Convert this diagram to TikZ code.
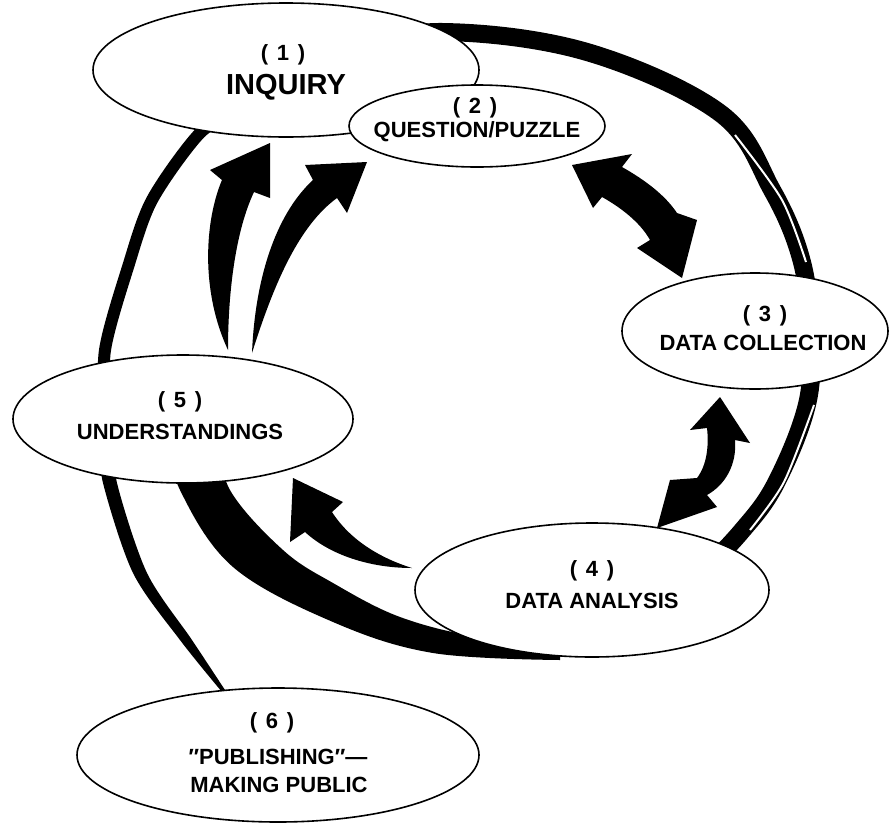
\documentclass[tikz,border=0pt]{standalone}
\usepackage{fontspec}
\setmainfont{Liberation Sans}
\usetikzlibrary{shapes.geometric}
\newcommand{\stepnum}[1]{(\hspace{0.4em}#1\hspace{0.4em})}
\begin{document}
\begin{tikzpicture}[x=1pt,y=-1pt,
  bubble/.style={ellipse, draw, line width=1.6pt, fill=white, inner sep=0pt},
  lab/.style={font=\fontsize{22}{26}\selectfont\bfseries, inner sep=0pt},
  biglab/.style={font=\fontsize{29}{32}\selectfont\bfseries, inner sep=0pt},
  brush/.style={line cap=round, line join=round},
  arrowfill/.style={fill=black}]
\useasboundingbox (0,0) rectangle (889,825);

% brush circle: top and right arc
\draw[brush, line width=18pt] plot[smooth, tension=0.6] coordinates {(330,48) (443,32) (587,52) (720,113) (772,190) (800,255) (810,320) (808,400) (776,483) (740,533) (690,585)};
\draw[white, line width=2pt] plot[smooth] coordinates {(735,135) (782,200) (806,262)};
\draw[white, line width=2pt] plot[smooth] coordinates {(814,405) (784,482) (750,530)};
% bottom thick crescent
\fill plot[smooth, tension=0.6] coordinates {(165,430) (180,490) (233,567) (333,622) (433,653) (560,660)} -- plot[smooth, tension=0.6] coordinates {(560,640) (480,637) (400,617) (333,583) (283,550) (230,490) (215,430)} -- cycle;
% left stroke
\draw[brush, line width=12pt] plot[smooth] coordinates {(240,110) (200,133) (152,200) (128,267) (105,350) (105,420)};
% lower-left thin stroke to publishing
\fill plot[smooth] coordinates {(100,440) (103,483) (133,573) (180,640) (222,692)} -- plot[smooth] coordinates {(225,690) (192,640) (147,573) (117,483) (115,440)} -- cycle;

% ellipses
\node[bubble, minimum width=386pt, minimum height=134pt] (e1) at (286,70) {};
\node[bubble, minimum width=256pt, minimum height=82pt] (e2) at (477,126) {};
\node[bubble, minimum width=266pt, minimum height=116pt] (e3) at (755,331) {};
\node[bubble, minimum width=354pt, minimum height=134pt] (e4) at (592,590) {};
\node[bubble, minimum width=340pt, minimum height=128pt] (e5) at (183,419) {};
\node[bubble, minimum width=402pt, minimum height=134pt] (e6) at (278,755) {};

% texts
\node[lab] (n1) at (283,55) {\stepnum{1}};
\node[biglab] (l1) at (286,87) {INQUIRY};
\node[lab] (n2) at (475,108) {\stepnum{2}};
\node[lab] (l2) at (477,132) {QUESTION/PUZZLE};
\node[lab] (n3) at (765,316) {\stepnum{3}};
\node[lab] (l3) at (763,343) {DATA COLLECTION};
\node[lab] (n4) at (592,571) {\stepnum{4}};
\node[lab] (l4) at (592,601) {DATA ANALYSIS};
\node[lab] (n5) at (180,402) {\stepnum{5}};
\node[lab] (l5) at (180,432) {UNDERSTANDINGS};
\node[lab] (n6) at (272,723) {\stepnum{6}};
\node[lab] (l6a) at (278,757) {″PUBLISHING″—};
\node[lab] (l6b) at (279,785) {MAKING PUBLIC};

% arrows
% 5 -> 1
\fill[arrowfill] (228,350) .. controls (200,290) and (205,220) .. (222,180) -- (210,170) -- (270,143) -- (270,198) -- (254,192) .. controls (236,230) and (228,290) .. (228,350) -- cycle;
% 5 -> 2
\fill[arrowfill] (252,353) .. controls (255,280) and (275,215) .. (313,180) -- (305,165) -- (367,162) -- (347,213) -- (337,198) .. controls (300,225) and (275,280) .. (252,353) -- cycle;
% 2 <-> 3
\fill[arrowfill] (572,165) -- (632,154) -- (622,167) .. controls (645,180) and (665,195) .. (677,213) -- (697,220) -- (682,278) -- (637,248) -- (650,240) .. controls (640,222) and (620,207) .. (602,197) -- (593,208) -- cycle;
% 3 <-> 4
\fill[arrowfill] (720,397) -- (750,443) -- (735,440) .. controls (737,465) and (725,485) .. (707,495) -- (717,507) -- (657,528) -- (670,480) -- (697,478) .. controls (707,465) and (709,445) .. (707,428) -- (690,430) -- cycle;
% 4 -> 5
\fill[arrowfill] (293,478) -- (343,502) -- (332,512) .. controls (350,540) and (380,558) .. (412,568) .. controls (370,568) and (330,555) .. (305,532) -- (290,542) -- cycle;
\end{tikzpicture}
\end{document}
